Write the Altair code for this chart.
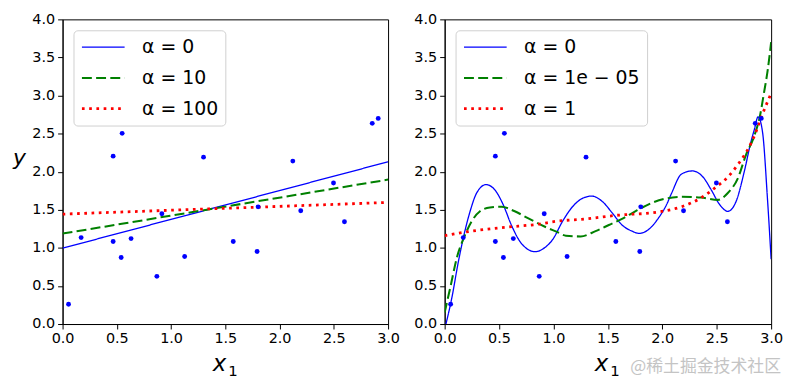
import altair as alt
import pandas as pd

# ---- scatter data (shared by both panels) ----
x_pts = [0.055, 0.171, 0.466, 0.466, 0.549, 0.540, 0.631, 0.869, 0.915, 1.125,
         1.299, 1.573, 1.793, 1.802, 2.122, 2.195, 2.497, 2.598, 2.854, 2.909]
y_pts = [0.26, 1.135, 2.204, 1.083, 2.504, 0.874, 1.122, 0.626, 1.448, 0.887,
         2.191, 1.083, 0.952, 1.539, 2.139, 1.487, 1.852, 1.343, 2.635, 2.70]

# ---- left panel: linear ridge models ----
left_labels = ["α = 0", "α = 10", "α = 100"]
left_x = [0.0, 3.0]
left_y_a0 = [0.996, 2.13]
left_y_a10 = [1.187, 1.896]
left_y_a100 = [1.443, 1.596]

# ---- right panel: polynomial ridge models ----
right_labels = ["α = 0", "α = 1e − 05", "α = 1"]
right_x_a0 = [0.012, 0.067, 0.121, 0.173, 0.234, 0.294, 0.380, 0.462, 0.537, 0.613,
              0.689, 0.765, 0.832, 0.917, 0.993, 1.084, 1.175, 1.266, 1.351, 1.448,
              1.539, 1.630, 1.721, 1.788, 1.873, 1.964, 2.040, 2.086, 2.177, 2.277,
              2.374, 2.450, 2.526, 2.602, 2.678, 2.753, 2.814, 2.845, 2.880, 2.921,
              2.966, 3.0]
right_y_a0 = [0.0, 0.35, 0.78, 1.14, 1.48, 1.72, 1.83, 1.76, 1.57, 1.30,
              1.09, 0.98, 0.95, 1.00, 1.11, 1.35, 1.54, 1.65, 1.68, 1.61,
              1.46, 1.30, 1.22, 1.19, 1.24, 1.39, 1.57, 1.72, 1.97, 2.01,
              1.93, 1.76, 1.57, 1.48, 1.61, 2.00, 2.39, 2.55, 2.72, 2.52,
              1.65, 0.85]
right_x_a1e5 = [0.0, 0.052, 0.112, 0.182, 0.249, 0.325, 0.416, 0.522, 0.644, 0.765,
                0.917, 1.032, 1.114, 1.250, 1.387, 1.509, 1.630, 1.751, 1.903, 2.040,
                2.177, 2.359, 2.511, 2.602, 2.693, 2.769, 2.845, 2.900, 2.930, 2.970,
                3.0]
right_y_a1e5 = [0.15, 0.48, 0.87, 1.15, 1.35, 1.48, 1.53, 1.54, 1.48, 1.39,
                1.28, 1.21, 1.16, 1.15, 1.22, 1.30, 1.38, 1.48, 1.59, 1.65,
                1.67, 1.66, 1.63, 1.72, 1.91, 2.22, 2.47, 2.75, 3.00, 3.35,
                3.70]
right_x_a1 = [0.0, 0.249, 0.553, 0.856, 1.032, 1.296, 1.600, 1.903, 2.040, 2.177,
              2.359, 2.495, 2.602, 2.693, 2.800, 2.860, 2.900, 2.950, 3.0]
right_y_a1 = [1.16, 1.22, 1.27, 1.31, 1.35, 1.38, 1.43, 1.46, 1.49, 1.54,
              1.66, 1.80, 1.93, 2.09, 2.33, 2.52, 2.68, 2.86, 3.03]

watermark = "@稀土掘金技术社区"
x_title_main = "x"
x_title_sub = "1"

x_ticks = [0.0, 0.5, 1.0, 1.5, 2.0, 2.5, 3.0]
y_ticks = [0.0, 0.5, 1.0, 1.5, 2.0, 2.5, 3.0, 3.5, 4.0]

colors = ["#0000ff", "#008000", "#ff0000"]
dashes = [[1, 0], [10, 4.3], [2.7, 4.6]]
widths = [1.3, 2.8, 2.8]

pts_df = pd.DataFrame({"x": x_pts, "y": y_pts})


def build_lines(labels, xs, ys):
    rows = []
    for lab, xx, yy in zip(labels, xs, ys):
        for a, b in zip(xx, yy):
            rows.append({"label": lab, "x": a, "y": b})
    return pd.DataFrame(rows)


left_df = build_lines(left_labels, [left_x, left_x, left_x],
                      [left_y_a0, left_y_a10, left_y_a100])
right_df = build_lines(right_labels, [right_x_a0, right_x_a1e5, right_x_a1],
                       [right_y_a0, right_y_a1e5, right_y_a1])


def legend():
    return alt.Legend(
        title=None, orient="top-left", offset=11, padding=7,
        fillColor="white", strokeColor="#d0d0d0", cornerRadius=4,
        labelFontSize=19, labelFont="DejaVu Sans", labelColor="black",
        labelOffset=16, symbolType="stroke", symbolSize=1850,
        clipHeight=20, rowPadding=11, labelLimit=400,
    )


def encodings(ytitle):
    xenc = alt.X("x:Q", scale=alt.Scale(domain=[0, 3], nice=False),
                 axis=alt.Axis(values=x_ticks, format=".1f", title=None,
                               labelFlush=False, labelOverlap=False))
    if ytitle:
        yaxis = alt.Axis(values=y_ticks, format=".1f", title="y", titleAngle=0,
                         titleX=-44, titleY=146, titleAlign="center",
                         titleBaseline="alphabetic", titleFontStyle="italic",
                         labelFlush=False, labelOverlap=False)
    else:
        yaxis = alt.Axis(values=y_ticks, format=".1f", title=None,
                         labelFlush=False, labelOverlap=False)
    yenc = alt.Y("y:Q", scale=alt.Scale(domain=[0, 4], nice=False), axis=yaxis)
    return xenc, yenc


def panel(df, labels, width, ytitle):
    xenc, yenc = encodings(ytitle)
    lines = alt.Chart(df).mark_line(interpolate="monotone", clip=True).encode(
        x=xenc, y=yenc,
        color=alt.Color("label:N", scale=alt.Scale(domain=labels, range=colors),
                        legend=legend()),
        strokeDash=alt.StrokeDash("label:N", scale=alt.Scale(domain=labels, range=dashes),
                                  legend=legend()),
        strokeWidth=alt.StrokeWidth("label:N", scale=alt.Scale(domain=labels, range=widths),
                                    legend=legend()),
    )
    xenc2, yenc2 = encodings(ytitle)
    points = alt.Chart(pts_df).mark_circle(size=24, color="#0000ff", opacity=1).encode(
        x=xenc2, y=yenc2)
    xt = alt.Chart(pd.DataFrame({"t": [x_title_main]})).mark_text(
        align="center", baseline="alphabetic", fontSize=23, fontStyle="italic",
        color="black", font="DejaVu Sans").encode(
        text="t:N", x=alt.value(158), y=alt.value(354))
    xs = alt.Chart(pd.DataFrame({"t": [x_title_sub]})).mark_text(
        align="left", baseline="alphabetic", fontSize=15,
        color="black", font="DejaVu Sans").encode(
        text="t:N", x=alt.value(167), y=alt.value(359))
    layers = [lines, points, xt, xs]
    if not ytitle:
        wm = alt.Chart(pd.DataFrame({"t": [watermark]})).mark_text(
            align="left", baseline="alphabetic", fontSize=17, color="#c4c4c4",
            font="Noto Sans CJK SC").encode(
            text="t:N", x=alt.value(187), y=alt.value(355))
        layers.append(wm)
    return alt.layer(*layers).properties(width=width, height=307)


left = panel(left_df, left_labels, 328, True)
right = panel(right_df, right_labels, 329, False)

chart = alt.hconcat(left, right, spacing=57, bounds="flush").resolve_scale(
    color="independent", strokeDash="independent", strokeWidth="independent"
).resolve_legend(
    color="independent", strokeDash="independent", strokeWidth="independent"
).properties(
    padding={"left": 3, "top": 1, "right": 5, "bottom": 5}
).configure(font="DejaVu Sans").configure_view(
    stroke="black", strokeWidth=1
).configure_axis(
    grid=False, domainColor="black", tickColor="black", tickSize=5,
    labelFontSize=14.5, labelColor="black", labelPadding=3,
    titleFontSize=22, titleFontWeight="normal", titleColor="black",
    titlePadding=8, titleFont="DejaVu Sans",
)

chart.save("out.html", embed_options={"renderer": "svg", "actions": False})
